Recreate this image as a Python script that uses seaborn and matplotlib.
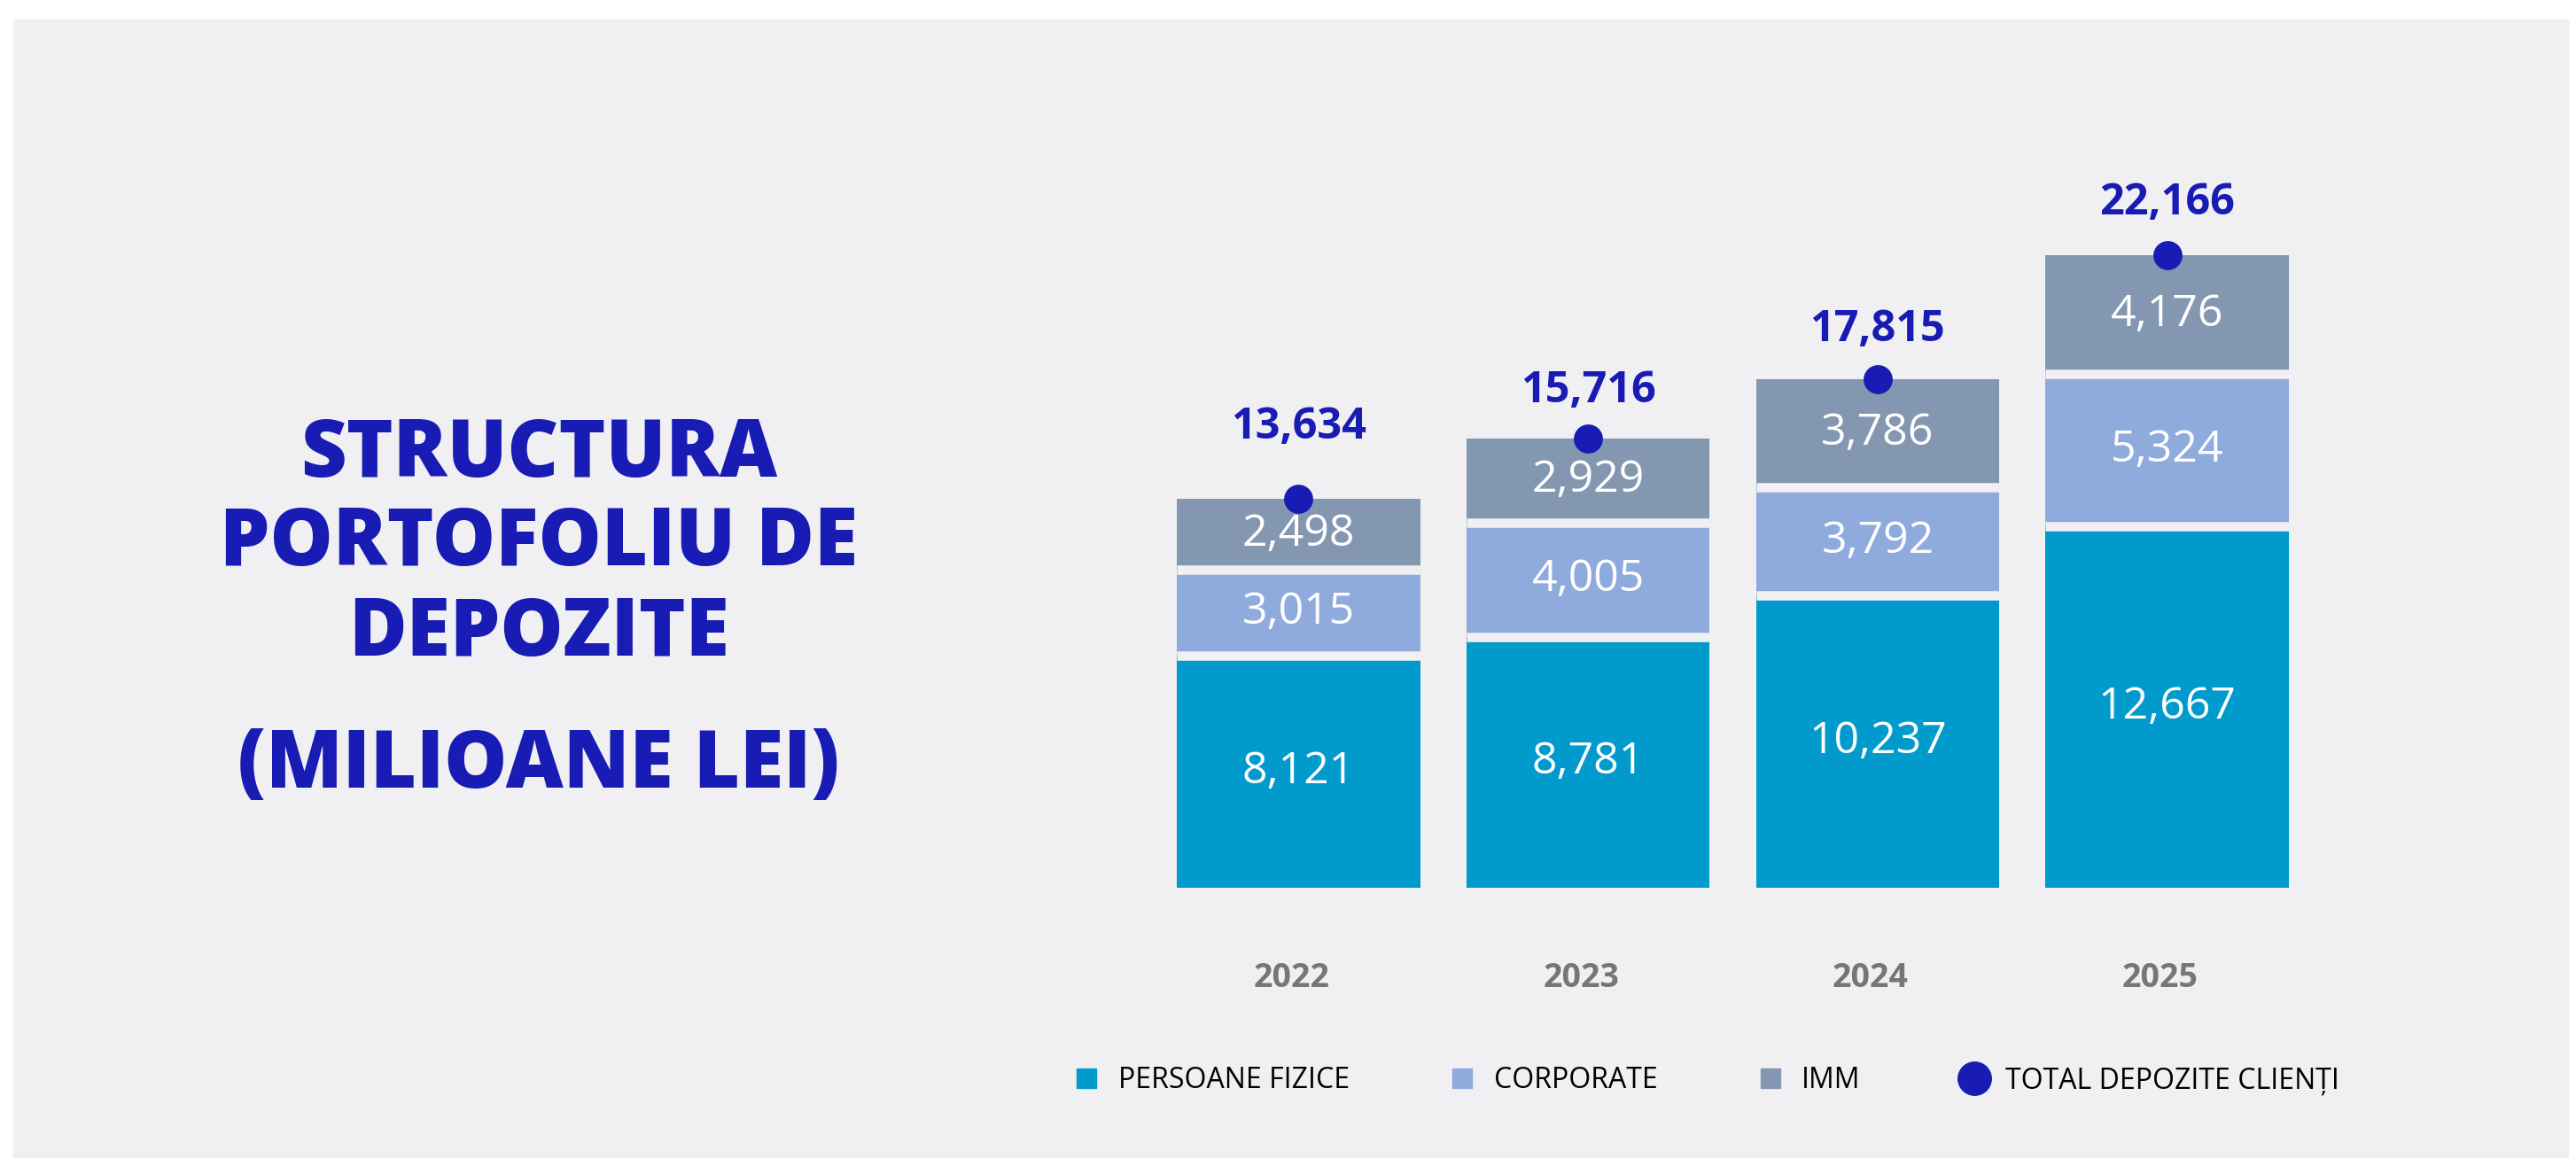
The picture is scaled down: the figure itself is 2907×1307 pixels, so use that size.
import matplotlib
matplotlib.use("Agg")
import matplotlib.pyplot as plt
import matplotlib.transforms as mtransforms
import seaborn as sns
import pandas as pd
from matplotlib.patches import Rectangle
from matplotlib.lines import Line2D

# Date (milioane lei)
ani = ["2022", "2023", "2024", "2025"]
persoane_fizice = [8121, 8781, 10237, 12667]
corporate = [3015, 4005, 3792, 5324]
imm = [2498, 2929, 3786, 4176]
total_depozite = [13634, 15716, 17815, 22166]

titlu = ["STRUCTURA", "PORTOFOLIU DE", "DEPOZITE", "(MILIOANE LEI)"]
legenda = ["PERSOANE FIZICE", "CORPORATE", "IMM", "TOTAL DEPOZITE CLIENȚI"]

# Culori
fundal = "#F0F0F2"
c_pf = "#009BCC"
c_corp = "#8FAADC"
c_imm = "#8497B0"
albastru = "#181CB4"
gri = "#767676"

sns.set_theme(style="white")
plt.rcParams['font.family'] = ['Open Sans', 'DejaVu Sans']

df = pd.DataFrame({"an": ani, "pf": persoane_fizice, "corp": corporate,
                   "imm": imm, "total": total_depozite})
df["sus_corp"] = df["pf"] + df["corp"]
df["sus_imm"] = df["sus_corp"] + df["imm"]

W, H = 2907, 1307
fig = plt.figure(figsize=(W / 100, H / 100), dpi=100, facecolor="white")
fig.patches.append(Rectangle((15 / W, 0), (2898 - 15) / W, (H - 22) / H,
                             transform=fig.transFigure, color=fundal, zorder=-5))

ax = fig.add_axes([1302 / W, (H - 1002) / H, 1307 / W, 838 / H])
ax.set_facecolor("none")
ax.set_zorder(2)

# bare stivuite (desenate de sus in jos, una peste alta)
latime = 0.84
for col, c in [("sus_imm", c_imm), ("sus_corp", c_corp), ("pf", c_pf)]:
    sns.barplot(data=df, x="an", y=col, color=c, saturation=1, width=latime,
                linewidth=0, errorbar=None, ax=ax)

# spatii intre segmente
for i in range(len(ani)):
    ax.hlines([df["pf"][i], df["sus_corp"][i]], i - latime / 2, i + latime / 2,
              color=fundal, linewidth=7.6, zorder=2)

# puncte total
sns.pointplot(data=df, x="an", y="total", color=albastru, linestyle="none",
              markers="o", markersize=21.6, errorbar=None, ax=ax, zorder=5)

# etichete in bare
for i in range(len(ani)):
    mijloace = [df["pf"][i] / 2,
                df["pf"][i] + df["corp"][i] / 2,
                df["sus_corp"][i] + df["imm"][i] / 2]
    valori = [persoane_fizice[i], corporate[i], imm[i]]
    for m, v in zip(mijloace, valori):
        ax.text(i, m, f"{v:,}", ha="center", va="center", color="white",
                fontsize=36, zorder=4)

# etichete total
decalaj = [49, 30, 31, 33]
for i, t in enumerate(total_depozite):
    ax.annotate(f"{t:,}", (i, t), xytext=(0, decalaj[i]), textcoords="offset points",
                ha="center", va="baseline", color=albastru, fontsize=35, fontweight="bold")

ax.set_xlim(-0.5, 3.5)
ax.set_ylim(0, 26000)
ax.set_xlabel("")
ax.set_ylabel("")
ax.set_yticks([])
ax.tick_params(axis="x", length=0, pad=60)
muta = mtransforms.ScaledTranslation(-8 / 100, 0, fig.dpi_scale_trans)
for lab in ax.get_xticklabels():
    lab.set_fontsize(27)
    lab.set_fontweight("bold")
    lab.set_color(gri)
    lab.set_transform(lab.get_transform() + muta)
sns.despine(ax=ax, left=True, bottom=True)

# titlu
baze = [538, 638, 740, 889]
for linie, y in zip(titlu, baze):
    fig.text(608 / W, 1 - y / H, linie, ha="center", va="baseline",
             color=albastru, fontsize=64.5, fontweight=800)

# legenda
handles = [
    Line2D([], [], marker="s", linestyle="none", markersize=15.8, color=c_pf),
    Line2D([], [], marker="s", linestyle="none", markersize=15.8, color=c_corp),
    Line2D([], [], marker="s", linestyle="none", markersize=15.8, color=c_imm),
    Line2D([], [], marker="o", linestyle="none", markersize=27, color=albastru),
]
fig.legend(handles, legenda, loc="center", bbox_to_anchor=(1925 / W, 1 - 1220 / H),
           ncol=4, frameon=False, fontsize=23, handlelength=1.0, handletextpad=0.6,
           columnspacing=3.5, labelcolor="black")

fig.savefig("out.png", dpi=100, facecolor="white")
